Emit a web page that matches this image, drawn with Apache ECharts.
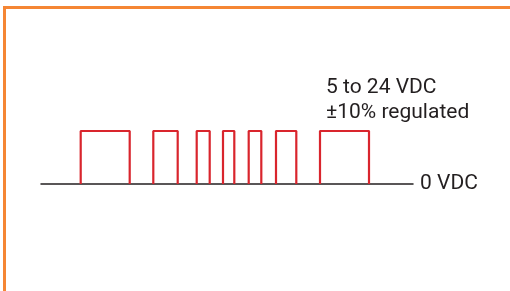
<!DOCTYPE html>
<html>
<head>
<meta charset="utf-8">
<script src="https://cdn.jsdelivr.net/npm/echarts@6/dist/echarts.min.js"></script>
<style>
  html, body { margin: 0; padding: 0; background: #fff; }
  #chart { width: 510px; height: 291px; }
</style>
</head>
<body>
<div id="chart"></div>
<script>
// pulse edges on a 0..372 time scale
const riseTimes = [39.7, 112.3, 155.7, 182, 207.7, 235, 279]
const fallTimes = [88.7, 136.7, 168.7, 193.3, 220.3, 255.3, 328]
const levelLabels = ['5 to 24 VDC', '±10% regulated']
const zeroLabel = '0 VDC'

// square wave as line points, '-' breaks between pulses
const pts = []
for (let i = 0; i < riseTimes.length; i++) {
  pts.push([riseTimes[i], 0], [riseTimes[i], 1], [fallTimes[i], 1], [fallTimes[i], 0])
  if (i < riseTimes.length - 1) pts.push('-')
}

const textFont = 'Roboto'
const textColor = '#231f20'

const chart = echarts.init(document.getElementById('chart'))
chart.setOption({
  animation: false,
  grid: { left: 41, right: 97, top: 131, bottom: 107 },
  xAxis: {
    type: 'value',
    min: 0,
    max: 372,
    name: zeroLabel,
    nameLocation: 'end',
    nameGap: 7,
    nameTextStyle: { fontFamily: textFont, fontSize: 21, color: textColor, verticalAlign: 'middle', padding: [8, 0, 0, 0] },
    axisLine: { lineStyle: { color: textColor, width: 1.5 } },
    axisTick: { show: false },
    axisLabel: { show: false },
    splitLine: { show: false }
  },
  yAxis: {
    type: 'value',
    min: 0,
    max: 1,
    show: false
  },
  series: [{
    type: 'line',
    data: pts,
    connectNulls: false,
    symbol: 'none',
    lineStyle: { color: '#d9252d', width: 2.2 },
    z: 3
  }],
  graphic: [
    {
      type: 'rect',
      shape: { x: 4.5, y: 7.5, width: 520, height: 300 },
      style: { fill: 'none', stroke: '#f58634', lineWidth: 3 }
    },
    // level labels above the last pulse
    ...levelLabels.map((t, i) => ({
      type: 'text',
      x: 326,
      y: 88 + i * 24.5,
      style: { text: t, font: '21px ' + textFont, fill: textColor, verticalAlign: 'middle' }
    }))
  ]
})
</script>
</body>
</html>
